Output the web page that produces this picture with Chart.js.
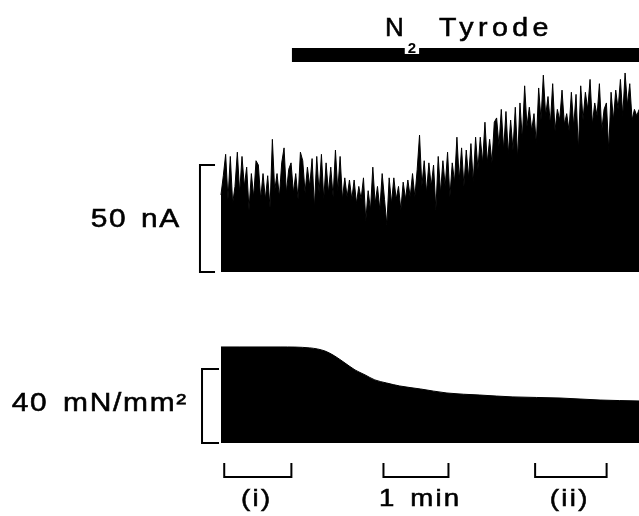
<!DOCTYPE html>
<html>
<head>
<meta charset="utf-8">
<script src="https://cdn.jsdelivr.net/npm/chart.js@4/dist/chart.umd.min.js"></script>
<style>
  html, body { margin: 0; padding: 0; background: #fff; }
  #chart { display: block; }
</style>
</head>
<body>
<canvas id="chart" width="639" height="516"></canvas>
<script>
// ---------- data ----------
// membrane current (nA), evenly sampled over the record, read off the trace
const currentNA = [
  36,45,55,34,54,32,40,56,37,54,40,49,29,46,35,52,50,34,46,34,
  45,30,62,38,46,35,51,58,37,48,51,37,46,34,56,52,37,49,40,53,
  30,54,37,55,34,51,37,49,35,57,38,54,34,44,35,43,34,43,32,40,34,
  44,24,38,29,49,32,40,29,46,34,22,44,32,44,34,40,29,42,34,43,
  35,46,35,48,64,40,52,37,51,40,50,29,54,37,52,40,56,35,51,42,
  63,43,58,40,57,44,60,42,63,48,63,51,70,51,62,51,70,
  72,59,76,57,75,55,71,57,77,53,79,62,87,68,77,66,74,60,86,71,
  92,73,82,69,88,66,76,71,85,69,74,66,84,68,83,57,87,71,84,76,
  90,69,79,73,88,66,76,79,57,84,71,85,76,90,73,93,78,88,71,76,73,76
];
const RECORD_SECONDS = 386;

// tension (mN/mm²) at times (s)
const tensionTimes = [0, 17.5, 54.5, 82, 96, 105, 114.5, 123.7, 133, 142, 153, 165, 184, 208.6, 239, 269.5, 313, 350, 386];
const tensionValues = [51.9, 51.9, 51.9, 51.4, 49.7, 47, 43.2, 39.5, 36.8, 34.1, 32.4, 30.8, 29.2, 27, 25.9, 24.9, 24.3, 23.2, 22.7];

// N2 Tyrode perfusion period (s)
const perfusionStart = 65.5;
const perfusionEnd = 386;

// sample windows and time calibration (s)
const windowStarts = [3, 150, 290];
const windowEnds = [65, 210, 356];
const windowLabels = ["(i)", "1 min", "(ii)"];

// calibration bars
const currentCal = 50;   // nA
const tensionCal = 40;   // mN/mm²
const currentCalLabel = "50 nA";
const tensionCalLabel = "40 mN/mm²";

// ---------- layout (data units) ----------
const X_MIN = -204, X_MAX = 385.9;
const PERF_LEVEL = 101.4;            // nA
const TITLE_X = 151.4, TITLE_Y = 110.3;
const WIN_BAR = -18.4, WIN_TIP = -10.8, WIN_TEXT = -30.3;   // mN/mm²
const WIN_LABEL_X = [33, 184, 322];  // s
const FONT = '"Liberation Sans", Arial, Helvetica, sans-serif';
const INK = "#000";

const dt = RECORD_SECONDS / (currentNA.length - 1);
const currentPoints = currentNA.map((v, i) => ({ x: i * dt, y: v }));
const tensionPoints = tensionTimes.map((t, i) => ({ x: t, y: tensionValues[i] }));

function bracket(xTip, xSpine, top, bottom) {
  return [{ x: xTip, y: top }, { x: xSpine, y: top }, { x: xSpine, y: bottom }, { x: xTip, y: bottom }];
}

const windowSets = windowStarts.map((s, i) => ({
  data: [{ x: s, y: WIN_TIP }, { x: s, y: WIN_BAR }, { x: windowEnds[i], y: WIN_BAR }, { x: windowEnds[i], y: WIN_TIP }],
  yAxisID: "yT", borderColor: INK, borderWidth: 2, pointRadius: 0, fill: false,
}));

// wide, slightly heavy lettering; returns drawn width in px
function wideText(ctx, text, px, py, opts) {
  const o = Object.assign({ stretch: 1.15, spacing: 1.5, word: 0, weight: 0.55 }, opts);
  ctx.save();
  ctx.translate(px, py);
  ctx.scale(o.stretch, 1);
  ctx.letterSpacing = o.spacing + "px";
  ctx.wordSpacing = o.word + "px";
  ctx.lineWidth = o.weight;
  ctx.strokeStyle = ctx.fillStyle;
  ctx.fillText(text, 0, 0);
  if (o.weight > 0) ctx.strokeText(text, 0, 0);
  const w = ctx.measureText(text).width * o.stretch;
  ctx.restore();
  return w;
}

// ---------- text ----------
const figureText = {
  id: "figureText",
  afterDatasetsDraw(chart) {
    const { ctx, scales: { x, yI, yT } } = chart;
    ctx.save();
    ctx.fillStyle = INK;

    // calibration labels
    ctx.font = `26px ${FONT}`;
    ctx.textAlign = "right";
    ctx.textBaseline = "middle";
    wideText(ctx, currentCalLabel, x.getPixelForValue(-37), yI.getPixelForValue(24.3), { word: 3 });
    wideText(ctx, tensionCalLabel, x.getPixelForValue(-30.5), yT.getPixelForValue(21.1), { word: 4 });

    // window labels
    ctx.font = `24px ${FONT}`;
    ctx.textAlign = "center";
    windowLabels.forEach((lab, i) => {
      wideText(ctx, lab, x.getPixelForValue(WIN_LABEL_X[i]), yT.getPixelForValue(WIN_TEXT), { word: 3, spacing: 2 });
    });

    // N2 Tyrode
    const px = x.getPixelForValue(TITLE_X);
    const py = yI.getPixelForValue(TITLE_Y);
    ctx.textAlign = "left";
    ctx.textBaseline = "alphabetic";
    ctx.font = `26px ${FONT}`;
    const nW = wideText(ctx, "N", px, py, { stretch: 1, spacing: 0 });
    ctx.font = `bold 15px ${FONT}`;
    const sW = ctx.measureText("2").width;
    const sx = px + nW + 4;
    ctx.fillStyle = "#fff";
    ctx.fillRect(sx - 3, py + 10, sW + 6, 8);
    ctx.fillStyle = INK;
    wideText(ctx, "2", sx, py + 17, { stretch: 1, spacing: 0, weight: 0 });
    ctx.font = `26px ${FONT}`;
    wideText(ctx, "Tyrode", px + 54, py, { stretch: 1.1, spacing: 4 });
    ctx.restore();
  },
};

new Chart(document.getElementById("chart"), {
  type: "line",
  data: {
    datasets: [
      {
        data: currentPoints, yAxisID: "yI",
        borderColor: INK, backgroundColor: INK, borderWidth: 1,
        pointRadius: 0, fill: "origin", tension: 0,
      },
      {
        data: tensionPoints, yAxisID: "yT",
        borderColor: INK, backgroundColor: INK, borderWidth: 1,
        pointRadius: 0, fill: "origin", cubicInterpolationMode: "monotone",
      },
      {
        data: [{ x: perfusionStart, y: PERF_LEVEL }, { x: perfusionEnd, y: PERF_LEVEL }], yAxisID: "yI",
        borderColor: INK, borderWidth: 14, borderCapStyle: "butt", pointRadius: 0, fill: false,
      },
      {
        data: bracket(-5.5, -19.4, currentCal, 0), yAxisID: "yI",
        borderColor: INK, borderWidth: 2, pointRadius: 0, fill: false,
      },
      {
        data: bracket(-1.8, -17.5, tensionCal, 0), yAxisID: "yT",
        borderColor: INK, borderWidth: 2, pointRadius: 0, fill: false,
      },
      ...windowSets,
    ],
  },
  options: {
    responsive: false,
    animation: false,
    events: [],
    layout: { padding: 0 },
    plugins: { legend: { display: false }, tooltip: { enabled: false } },
    scales: {
      x: { type: "linear", min: X_MIN, max: X_MAX, display: false },
      yI: { type: "linear", min: -114, max: 127.1, display: false },
      yT: { type: "linear", min: -39.5, max: 239.5, display: false },
    },
  },
  plugins: [figureText],
});
</script>
</body>
</html>
